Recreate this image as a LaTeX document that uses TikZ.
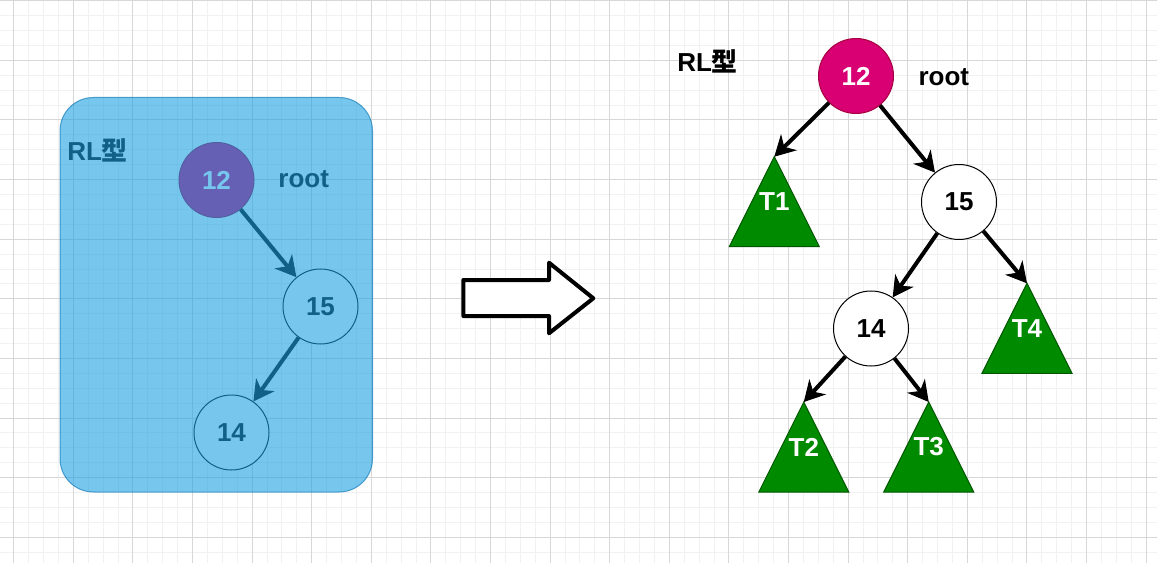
\documentclass[tikz,border=0pt]{standalone}
\usepackage{fontspec}
\setmainfont{Liberation Sans}
\newfontfamily\cjk{Noto Sans CJK SC}
\usetikzlibrary{arrows.meta}
\definecolor{pinkc}{HTML}{D80073}
\definecolor{pinkd}{HTML}{A50040}
\definecolor{greenc}{HTML}{008A00}
\definecolor{greend}{HTML}{005700}
\definecolor{bluef}{HTML}{1BA1E2}
\definecolor{blued}{HTML}{006EAF}
\definecolor{gmaj}{RGB}{215,215,215}
\definecolor{gmin}{RGB}{241,241,241}
\begin{document}
\begin{tikzpicture}[x=0.75pt,y=-0.75pt,
  lbl/.style={font=\bfseries\fontsize{19.5}{22}\selectfont, inner sep=0pt},
  circ/.style={circle, draw=black, line width=0.75pt, fill=white, minimum size=56.25pt, inner sep=0pt, font=\bfseries\fontsize{19.5}{22}\selectfont},
  rootc/.style={circ, fill=pinkc, draw=pinkd, text=white},
  edge/.style={line width=3pt, -{Stealth[length=15.5pt,width=17pt,inset=5pt,line width=0.75pt]}},
  tri/.style={fill=greenc, draw=greend, line width=0.75pt},
  trilbl/.style={lbl, text=white},
  gminor/.style={draw=gmin, line width=0.75pt},
  gmajor/.style={draw=gmaj, line width=0.75pt},
]
\useasboundingbox (0,0) rectangle (1157,563);
\fill[white] (0,0) rectangle (1157,563);
% grid
\foreach \k in {-1,...,77} { \draw[gminor] ({13.7+\k*14.9},0) -- ({13.7+\k*14.9},563); }
\foreach \k in {0,...,38} { \draw[gminor] (0,{0.8+\k*14.9}) -- (1157,{0.8+\k*14.9}); }
\foreach \k in {0,...,19} { \draw[gmajor] ({13.7+\k*59.6},0) -- ({13.7+\k*59.6},563); }
\foreach \k in {0,...,9} { \draw[gmajor] (0,{0.8+\k*59.6}) -- (1157,{0.8+\k*59.6}); }

% left tree
\node[rootc] (l12) at (216.5,180) {12};
\node[circ] (l15) at (320.5,306.5) {15};
\node[circ] (l14) at (231.5,432.5) {14};
\node[lbl] (lroot) at (303.7,179) {root};
\node[lbl, anchor=west] (lrl) at (67,150) {RL{\cjk\bfseries 型}};
\draw[edge] (l12) -- (l15);
\draw[edge] (l15) -- (l14);
% overlay
\draw[fill=bluef, draw=blued, fill opacity=0.6, draw opacity=0.6, line width=0.75pt, rounded corners=25pt] (60,97.5) rectangle (372.5,492);

% big arrow
\draw[line width=3pt, fill=white, line join=round] (463.3,280) -- (549,280) -- (549,262.7) -- (593.3,298.3) -- (549,333.3) -- (549,316) -- (463.3,316) -- cycle;

% right tree
\node[rootc] (r12) at (856,76) {12};
\node[lbl] (rroot) at (943.8,76.7) {root};
\node[lbl, anchor=west] (rrl) at (677,61.7) {RL{\cjk\bfseries 型}};
\node[circ] (r15) at (959,202) {15};
\node[circ] (r14) at (871,328.5) {14};
\foreach \n/\x/\y in {T1/774.3/156.7, T4/1027/283.3, T2/803.8/402, T3/928.7/402} {
  \draw[tri] (\x,\y) coordinate (\n a) -- ++(45,90) -- ++(-90,0) -- cycle;
  \node[trilbl] (\n) at (\x,\y+45) {\n};
}
\draw[edge] (r12) -- (T1a);
\draw[edge] (r12) -- (r15);
\draw[edge] (r15) -- (r14);
\draw[edge] (r15) -- (T4a);
\draw[edge] (r14) -- (T2a);
\draw[edge] (r14) -- (T3a);
\end{tikzpicture}
\end{document}
